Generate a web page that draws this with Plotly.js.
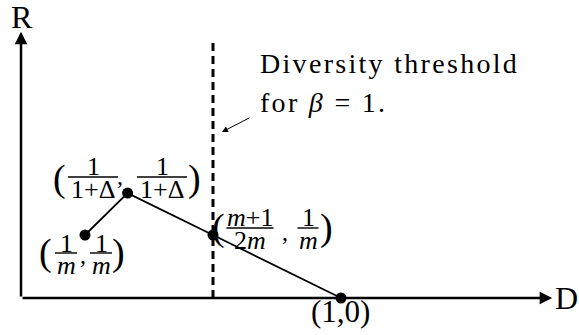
<!DOCTYPE html>
<html>
<head>
<meta charset="utf-8">
<script src="https://cdn.plot.ly/plotly-3.0.1.min.js"></script>
<style>
    html, body { margin: 0; padding: 0; background: #fff; }
    #chart { width: 579px; height: 335px; }
</style>
</head>
<body>
<div id="chart"></div>
<script>
// diversity (D) and rate (R) of the four corner points, m = 5, delta = 2
const pointD = [0.2, 0.333, 0.6, 1.0];
const pointR = [0.2, 0.333, 0.2, 0.0];
const thresholdD = 0.6;
const axisEnd = { d: 1.66, r: 0.845 };
const thresholdTop = 0.82;

(function () {
    const W = 579, H = 335;
    const FONT = "Liberation Serif, Times New Roman, serif";
    const el = (id) => document.getElementById(id);

    // pixel -> paper helpers for the hand-placed labels
    const px = (x) => x / W;
    const py = (y) => 1 - y / H;

    const annotations = [];
    const shapes = [];

    function text(x, y, str, size, anchor = "center") {
        annotations.push({
            xref: "paper", yref: "paper", x: px(x), y: py(y),
            text: str, showarrow: false, xanchor: anchor, yanchor: "middle",
            borderpad: 0,
            font: { family: FONT, size: size, color: "#000" }
        });
    }

    function frac(cx, cy, num, den, w) {
        text(cx, cy - 10, num, 26);
        text(cx, cy + 12, den, 26);
        shapes.push({
            type: "line", xref: "paper", yref: "paper",
            x0: px(cx - w / 2), x1: px(cx + w / 2), y0: py(cy), y1: py(cy),
            line: { color: "#000", width: 1.4 }
        });
    }

    function arrow(x, y, ax, ay, width, size) {
        annotations.push({
            x: x, y: y, ax: ax, ay: ay, xref: "x", yref: "y", axref: "x", ayref: "y",
            text: "", showarrow: true, arrowhead: 2, arrowsize: size, arrowwidth: width,
            arrowcolor: "#000", standoff: 0, startstandoff: 0
        });
    }

    // axes
    arrow(axisEnd.d, 0, 0, 0, 2.5, 1);
    arrow(0, axisEnd.r, 0, 0, 2.5, 1);
    text(22, 17, "R", 32);
    text(566, 298, "D", 32);

    // (1/m, 1/m)
    text(45, 252, "(", 38);
    frac(66, 253, "1", "<i>m</i>", 22);
    text(83, 255, ",", 24);
    frac(101, 253, "1", "<i>m</i>", 22);
    text(118, 252, ")", 38);

    // (1/(1+Δ), 1/(1+Δ))
    text(60, 178, "(", 38);
    frac(93, 177, "1", "1+Δ", 50);
    text(120, 176, ",", 24);
    frac(162, 177, "1", "1+Δ", 50);
    text(194, 178, ")", 38);

    // ((m+1)/2m, 1/m)
    text(218, 227, "(", 38);
    frac(250, 228, "<i>m</i>+1", "2<i>m</i>", 47);
    text(285, 232, ",", 24);
    frac(308, 228, "1", "<i>m</i>", 21);
    text(326, 227, ")", 38);

    text(340, 311, "(1,0)", 31);

    // threshold note
    const spaced = (s) => `<span style="letter-spacing:2.3px">${s}</span>`;
    text(259, 63, spaced("Diversity threshold"), 28, "left");
    text(259, 103, spaced("for <i>β</i> = 1."), 28, "left");
    annotations.push({
        xref: "paper", yref: "paper", axref: "pixel", ayref: "pixel",
        x: px(222), y: py(132), ax: 29, ay: -15,
        text: "", showarrow: true, arrowhead: 2, arrowsize: 1.2, arrowwidth: 1,
        arrowcolor: "#000", standoff: 0
    });

    const traces = [
        {
            type: "scatter", mode: "lines",
            x: [thresholdD, thresholdD], y: [0, thresholdTop],
            line: { color: "#000", width: 3, dash: "8px,5px" },
            hoverinfo: "skip"
        },
        {
            type: "scatter", mode: "lines+markers",
            x: pointD, y: pointR,
            line: { color: "#000", width: 1.8 },
            marker: { color: "#000", size: 11 },
            cliponaxis: false
        }
    ];

    const layout = {
        width: W, height: H,
        margin: { l: 0, r: 0, t: 0, b: 0 },
        showlegend: false,
        paper_bgcolor: "#fff", plot_bgcolor: "#fff",
        xaxis: { range: [-21 / 320, (W - 21) / 320], visible: false, fixedrange: true },
        yaxis: { range: [-(H - 298) / 315, 298 / 315], visible: false, fixedrange: true },
        annotations: annotations,
        shapes: shapes
    };

    Plotly.newPlot(el("chart"), traces, layout, { displayModeBar: false, staticPlot: true });
})();
</script>
</body>
</html>
